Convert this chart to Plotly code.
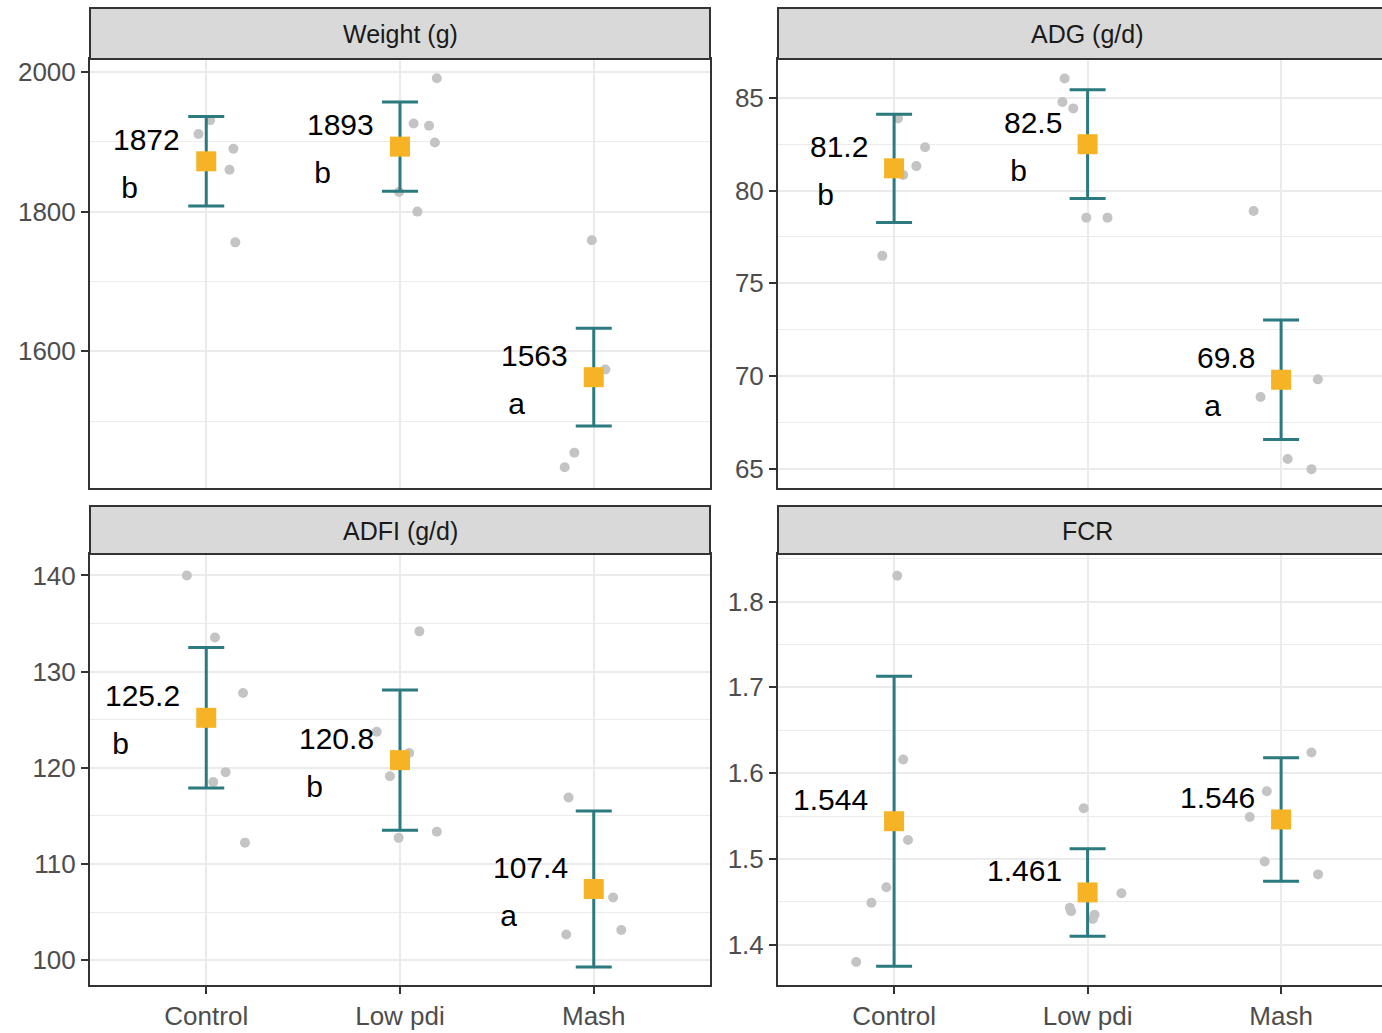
import plotly.graph_objects as go

# ---------------- data ----------------
categories = ["Control", "Low pdi", "Mash"]
panel_titles = ["Weight (g)", "ADG (g/d)", "ADFI (g/d)", "FCR"]

# Weight (g)
weight_means = [1872, 1893, 1563]
weight_err = [64, 64, 70]
weight_letters = ["b", "b", "a"]
weight_pt_group = [1, 1, 1, 1, 1, 2, 2, 2, 2, 2, 2, 3, 3, 3, 3]
weight_pt_jitter = [0.02, -0.04, 0.14, 0.12, 0.15, 0.19, 0.07, 0.15, 0.18, -0.005, 0.09, -0.01, 0.06, -0.10, -0.15]
weight_pt_values = [1931, 1911, 1890, 1860, 1756, 1991, 1926, 1923, 1899, 1828, 1800, 1759, 1574, 1455, 1434]

# ADG (g/d)
adg_means = [81.2, 82.5, 69.8]
adg_err = [2.92, 2.93, 3.22]
adg_letters = ["b", "b", "a"]
adg_pt_group = [1, 1, 1, 1, 1, 2, 2, 2, 2, 2, 3, 3, 3, 3, 3]
adg_pt_jitter = [0.02, 0.16, 0.115, 0.047, -0.061, -0.119, -0.13, -0.074, -0.007, 0.103, -0.142, 0.19, -0.106, 0.034, 0.157]
adg_pt_values = [83.89, 82.34, 81.32, 80.84, 76.48, 86.04, 84.78, 84.43, 78.54, 78.54, 78.90, 69.82, 68.87, 65.53, 64.98]

# ADFI (g/d)
adfi_means = [125.2, 120.8, 107.4]
adfi_err = [7.3, 7.3, 8.1]
adfi_letters = ["b", "b", "a"]
adfi_pt_group = [1, 1, 1, 1, 1, 1, 2, 2, 2, 2, 2, 2, 3, 3, 3, 3]
adfi_pt_jitter = [-0.10, 0.045, 0.19, 0.10, 0.036, 0.20, 0.10, -0.12, 0.047, -0.052, 0.19, -0.007, -0.13, 0.10, -0.142, 0.142]
adfi_pt_values = [140.0, 133.55, 127.78, 119.55, 118.52, 112.22, 134.19, 123.76, 121.55, 119.13, 113.36, 112.72, 116.92, 106.52, 102.67, 103.13]

# FCR
fcr_means = [1.544, 1.461, 1.546]
fcr_err = [0.169, 0.051, 0.072]
fcr_letters = ["", "", ""]
fcr_pt_group = [1, 1, 1, 1, 1, 1, 2, 2, 2, 2, 2, 2, 3, 3, 3, 3, 3]
fcr_pt_jitter = [0.016, 0.047, 0.072, -0.04, -0.117, -0.196, -0.02, 0.175, -0.092, -0.085, 0.036, 0.027, 0.157, -0.074, -0.162, -0.085, 0.191]
fcr_pt_values = [1.830, 1.616, 1.522, 1.467, 1.449, 1.380, 1.559, 1.460, 1.443, 1.439, 1.435, 1.430, 1.624, 1.579, 1.549, 1.497, 1.482]

label_decimals = [0, 1, 1, 3]

# ---------------- styling ----------------
W, H = 1382, 1033
FONT = "Liberation Sans, Arial, sans-serif"
TEAL = "#2B7A80"
ORANGE = "#F5B325"
GREY_PT = "#C4C4C4"
GRID = "#EBEBEB"
BORDER = "#333333"
TICKTXT = "#4D4D4D"

def px_x(p):
    return p / W

def px_y(p):
    return 1 - p / H

# panel pixel boxes (left, right, top, bottom), strip top
panels = [
    dict(l=90, r=710, t=57, b=487, st=6, xr=[0.4, 3.6], yr=[1404.3, 2018.6], dt=200, mdt=100, bottom=False, cut=False),
    dict(l=778, r=1382, t=57, b=487, st=6, xr=[0.4, 0.4 + (1382 - 778) / 193.5], yr=[63.96, 87.10], dt=5, mdt=2.5, bottom=False, cut=True),
    dict(l=90, r=710, t=553, b=985, st=505, xr=[0.4, 3.6], yr=[97.41, 142.24], dt=10, mdt=5, bottom=True, cut=False),
    dict(l=778, r=1382, t=553, b=985, st=505, xr=[0.4, 0.4 + (1382 - 778) / 193.5], yr=[1.353, 1.8555], dt=0.1, mdt=0.05, bottom=True, cut=True),
]

series = [
    (weight_means, weight_err, weight_letters, weight_pt_group, weight_pt_jitter, weight_pt_values),
    (adg_means, adg_err, adg_letters, adg_pt_group, adg_pt_jitter, adg_pt_values),
    (adfi_means, adfi_err, adfi_letters, adfi_pt_group, adfi_pt_jitter, adfi_pt_values),
    (fcr_means, fcr_err, fcr_letters, fcr_pt_group, fcr_pt_jitter, fcr_pt_values),
]

LABEL_FS = 30
TICK_FS = 26
STRIP_FS = 25

def text_width(s, fs):
    w = 0.0
    for ch in s:
        w += 0.278 if ch in ". " else 0.556
    return w * fs

fig = go.Figure()
layout = dict(
    width=W, height=H,
    margin=dict(l=0, r=0, t=0, b=0),
    paper_bgcolor="white", plot_bgcolor="white",
    showlegend=False,
    font=dict(family=FONT, size=TICK_FS, color=TICKTXT),
)
shapes = []
annotations = []

for i, (pan, ser) in enumerate(zip(panels, series)):
    k = "" if i == 0 else str(i + 1)
    xa, ya = "x" + k, "y" + k
    means, err, letters, grp, jit, vals = ser
    cat_idx = [1, 2, 3]

    layout["xaxis" + k] = dict(
        domain=[px_x(pan["l"]), min(1.0, px_x(pan["r"]))],
        anchor=ya, range=pan["xr"], tickmode="array", tickvals=cat_idx,
        ticktext=categories if pan["bottom"] else ["", "", ""],
        showticklabels=pan["bottom"],
        ticks="outside" if pan["bottom"] else "", ticklen=7, tickwidth=2, tickcolor=BORDER,
        showgrid=True, gridcolor=GRID, gridwidth=2, zeroline=False,
        showline=True, linecolor=BORDER, linewidth=2, mirror=True,
        tickfont=dict(size=TICK_FS, color=TICKTXT, family=FONT), fixedrange=True,
    )
    layout["yaxis" + k] = dict(
        domain=[px_y(pan["b"]), px_y(pan["t"])],
        anchor=xa, range=pan["yr"], tick0=0, dtick=pan["dt"],
        ticks="outside", ticklen=7, tickwidth=2, tickcolor=BORDER,
        showgrid=True, gridcolor=GRID, gridwidth=2, zeroline=False,
        minor=dict(tick0=0, dtick=pan["mdt"], showgrid=True, gridcolor=GRID, gridwidth=1.2, ticks=""),
        showline=True, linecolor=BORDER, linewidth=2, mirror=not pan["cut"],
        tickfont=dict(size=TICK_FS, color=TICKTXT, family=FONT), fixedrange=True,
    )

    # jittered raw points
    fig.add_trace(go.Scatter(
        x=[g + j for g, j in zip(grp, jit)], y=vals, xaxis=xa, yaxis=ya,
        mode="markers", marker=dict(size=10, color=GREY_PT, line=dict(width=0)),
        hoverinfo="skip",
    ))
    # mean squares with error bars
    fig.add_trace(go.Scatter(
        x=cat_idx, y=means, xaxis=xa, yaxis=ya, mode="markers",
        marker=dict(symbol="square", size=20, color=ORANGE, line=dict(width=0)),
        error_y=dict(type="data", array=err, visible=True, color=TEAL, thickness=3, width=18),
        hoverinfo="skip",
    ))

    # value / letter labels
    dec = label_decimals[i]
    for c, m, lt in zip(cat_idx, means, letters):
        s = f"{m:.{dec}f}"
        annotations.append(dict(
            x=c, y=m, xref=xa, yref=ya, text=s, showarrow=False,
            xanchor="right", yanchor="middle", xshift=-24, yshift=22,
            font=dict(size=LABEL_FS, color="black", family=FONT),
        ))
        if lt:
            annotations.append(dict(
                x=c, y=m, xref=xa, yref=ya, text="\u00a0" + lt, showarrow=False,
                xanchor="left", yanchor="middle", xshift=-24 - text_width(s, LABEL_FS) - 5, yshift=-26,
                font=dict(size=LABEL_FS, color="black", family=FONT),
            ))

    # strip
    shapes.append(dict(
        type="rect", xref="paper", yref="paper",
        x0=px_x(pan["l"]), x1=(1.01 if pan["cut"] else px_x(pan["r"])),
        y0=px_y(pan["t"]), y1=px_y(pan["st"]),
        fillcolor="#D9D9D9", line=dict(color=BORDER, width=2), layer="above",
    ))
    annotations.append(dict(
        x=2, y=(px_y(pan["t"]) + px_y(pan["st"])) / 2, xref=xa, yref="paper",
        text=panel_titles[i], showarrow=False, xanchor="center", yanchor="middle",
        yshift=-1,
        font=dict(size=STRIP_FS, color="#1A1A1A", family=FONT),
    ))

layout["shapes"] = shapes
layout["annotations"] = annotations
fig.update_layout(**layout)

fig.write_html("out.html", config={"displayModeBar": False},
               post_script="document.body.style.margin='0';document.body.style.overflow='hidden';")
